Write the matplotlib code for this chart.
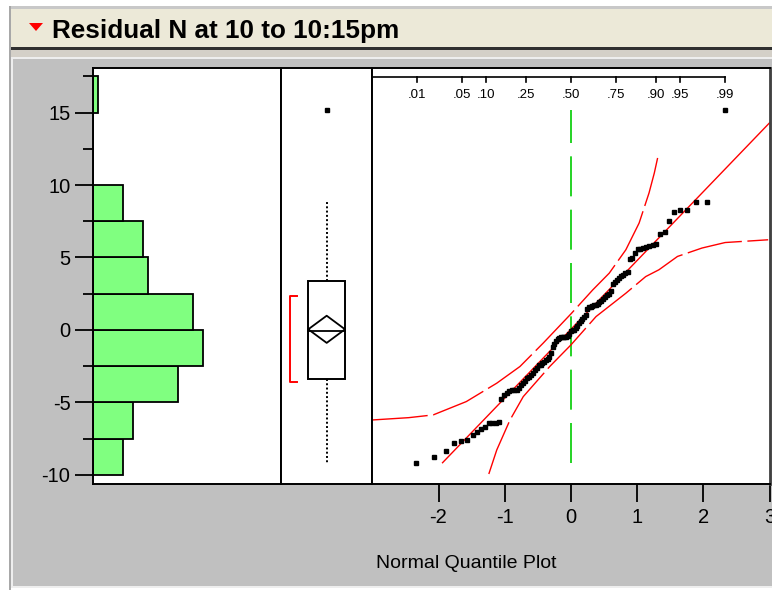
import numpy as np
import matplotlib
matplotlib.use('Agg')
import matplotlib.pyplot as plt
import matplotlib.transforms as mtransforms
from matplotlib.patches import Rectangle, Polygon
from statistics import NormalDist

residuals = [
    -9.17, -8.80, -8.36, -7.81, -7.65, -7.58,
    -7.26, -7.03, -6.86, -6.72, -6.45, -6.42, -6.40, -6.36,
    -4.79, -4.49, -4.35, -4.22, -4.18, -4.16, -4.13, -4.00, -3.82, -3.65,
    -3.50, -3.35, -3.22, -3.10, -2.95, -2.80, -2.65,
    -2.45, -2.42, -2.30, -2.20, -2.10, -1.98, -1.86, -1.60, -1.20, -1.00,
    -0.80, -0.60, -0.55, -0.52, -0.50, -0.48, -0.46, -0.44, -0.25, -0.06,
    -0.04, -0.02,
    0.15, 0.30, 0.45, 0.60, 0.75, 0.88, 1.05, 1.45, 1.55, 1.60,
    1.65, 1.70, 1.73, 1.80, 1.90, 1.98, 2.10, 2.25, 2.38, 2.45,
    2.70, 3.20, 3.30, 3.45, 3.55, 3.70, 3.80, 3.90, 4.00, 4.90, 4.97,
    5.30, 5.55, 5.60, 5.65, 5.75, 5.80, 5.85, 5.95, 6.65, 6.75,
    7.55, 8.11, 8.25, 8.28, 8.80, 8.82,
    15.2,
]

hist_ticks = [-10, -5, 0, 5, 10, 15]
quantile_ticks = [-2, -1, 0, 1, 2, 3]
prob_ticks = [0.01, 0.05, 0.10, 0.25, 0.50, 0.75, 0.90, 0.95, 0.99]
prob_labels = ['.01', '.05', '.10', '.25', '.50', '.75', '.90', '.95', '.99']
shortest_half = [-3.57, 2.35]

# Lilliefors confidence bands
upper_band_x = [-3.0, -2.45, -2.08, -1.58, -1.12, -0.77, -0.42, 0.0, 0.33, 0.58, 0.83, 1.03, 1.18, 1.26, 1.31]
upper_band_y = [-6.22, -6.06, -5.87, -4.95, -3.68, -2.53, -0.92, 1.1, 2.76, 3.92, 5.53, 7.37, 9.45, 10.83, 11.87]
lower_band_x = [-1.24, -1.12, -0.92, -0.72, -0.32, 0.0, 0.38, 0.83, 1.13, 1.33, 1.61, 1.98, 2.33, 2.98]
lower_band_y = [-9.95, -8.29, -6.22, -4.61, -2.53, -1.04, 0.92, 2.53, 3.68, 4.15, 5.07, 5.65, 6.03, 6.22]

W, H = 772, 594
plt.rcParams['font.family'] = ['Liberation Sans', 'DejaVu Sans']
plt.rcParams['axes.unicode_minus'] = False
fig = plt.figure(figsize=(W / 100, H / 100), dpi=100)


def px_axes(left, top, right, bottom):
    return fig.add_axes([left / W, 1 - bottom / H, (right - left) / W, (bottom - top) / H])


# window decoration
bg = fig.add_axes([0, 0, 1, 1])
bg.set_xlim(0, W)
bg.set_ylim(H, 0)
bg.axis('off')
bg.add_patch(Rectangle((10, 6), W - 10, 3, fc='#C8C8C8', ec='none'))
bg.add_patch(Rectangle((10, 9), W - 10, 38, fc='#ECE9D8', ec='none'))
bg.add_patch(Rectangle((10, 47), W - 10, 2.5, fc='#303030', ec='none'))
bg.add_patch(Rectangle((10, 49.5), W - 10, 8, fc='#D4D0C8', ec='none'))
bg.add_patch(Rectangle((10, 57), W - 10, 531, fc='#EEEEEE', ec='none'))
bg.add_patch(Rectangle((13, 59), W - 13, 527, fc='#C0C0C0', ec='none'))
bg.add_patch(Rectangle((9, 6), 1.5, 584, fc='#A8A8A8', ec='none'))
bg.add_patch(Polygon([(29, 23), (43, 23), (36, 31)], closed=True, fc='#FF0000', ec='none'))
bg.text(52, 31, 'Residual N at 10 to 10:15pm', fontsize=18.8, fontweight='bold',
        va='center', ha='left', color='black')
bg.text(466, 563, 'Normal Quantile Plot', fontsize=14, ha='center', va='center')

top, bottom = 67.7, 484
ylim = (-10.64, 18.1)
res = np.array(residuals)
n = len(res)

# histogram
ax_h = px_axes(92.7, top, 280.7, bottom)
ax_h.hist(res, bins=np.arange(-10, 17.6, 2.5), orientation='horizontal',
          color='#80FF80', edgecolor='black', linewidth=1.3)
ax_h.set_xlim(0, 37.6)
ax_h.set_ylim(*ylim)
ax_h.set_xticks([])
ax_h.set_yticks(hist_ticks)
ax_h.set_yticks(np.arange(-7.5, 18, 5), minor=True)
ax_h.tick_params(axis='y', which='major', length=13, width=1.3, labelsize=14.5, pad=3)
ax_h.tick_params(axis='y', which='minor', length=7, width=1.3)

# outlier box plot
ax_b = px_axes(280.7, top, 372.3, bottom)
ax_b.set_xlim(0, 1)
ax_b.set_ylim(*ylim)
ax_b.set_xticks([])
ax_b.set_yticks([])
q1, med, q3 = np.percentile(res, [25, 50, 75], method='weibull')
iqr = q3 - q1
hi = res[res <= q3 + 1.5 * iqr].max()
lo = res[res >= q1 - 1.5 * iqr].min()
outliers = res[(res > hi) | (res < lo)]
mean = res.mean()
sd = res.std(ddof=1)
ci = 1.984 * sd / np.sqrt(n)
bl, br, bc = 0.301, 0.702, 0.502
ax_b.add_patch(Rectangle((bl, q1), br - bl, q3 - q1, fc='white', ec='black', lw=1.4))
ax_b.plot([bl, br], [med, med], color='black', lw=1.3)
ax_b.plot([bl, bc, br, bc, bl], [mean, mean + ci, mean, mean - ci, mean], color='black', lw=1.3)
ax_b.plot([bc, bc], [q3, hi], color='black', lw=1.4, dashes=(1, 1.2))
ax_b.plot([bc, bc], [q1, lo], color='black', lw=1.4, dashes=(1, 1.2))
ax_b.plot([0.51] * len(outliers), outliers, 's', color='black', ms=2.4)
ax_b.plot([0.175, 0.10, 0.10, 0.175],
          [shortest_half[1], shortest_half[1], shortest_half[0], shortest_half[0]],
          color='#FF0000', lw=1.4)

# normal quantile plot
ax_q = px_axes(372.3, top, 769.5, bottom)
ax_q.set_xlim(-3, 3)
ax_q.set_ylim(*ylim)
nd = NormalDist()
scores = [nd.inv_cdf(i / (n + 1)) for i in range(1, n + 1)]
ax_q.plot([0, 0], [res.min(), res.max()], color='#00CC00', lw=1.2, dashes=(24, 8))
ax_q.plot(upper_band_x, upper_band_y, color='#FF0000', lw=1, dashes=(40, 4))
ax_q.plot(lower_band_x, lower_band_y, color='#FF0000', lw=1, dashes=(40, 4))
x0 = (res.min() - mean) / sd
ax_q.plot([x0, 3], [mean + sd * x0, mean + sd * 3], color='#FF0000', lw=1)
ax_q.plot(scores, np.sort(res), 's', color='black', ms=2.4, ls='none')

ax_q.set_xticks(quantile_ticks)
ax_q.set_yticks([])
ax_q.tick_params(axis='x', length=13, width=1.3, labelsize=14.5, pad=4)

# probability scale along the top
trans = mtransforms.blended_transform_factory(ax_q.transData, ax_q.transAxes)
p_x = [nd.inv_cdf(p) for p in prob_ticks]
ax_q.plot([-3, p_x[-1]], [0.977, 0.977], color='black', lw=1.2, transform=trans)
for xv, lab in zip(p_x, prob_labels):
    ax_q.plot([xv, xv], [0.977, 0.965], color='black', lw=1.2, transform=trans)
    ax_q.text(xv, 0.934, lab, fontsize=9.5, ha='center', va='center', transform=trans)

for ax in (ax_h, ax_b, ax_q):
    for sp in ax.spines.values():
        sp.set_linewidth(1.4)
ax_q.spines['right'].set_linewidth(2)
ax_q.spines['right'].set_color('#404040')

fig.savefig('out.png', dpi=100)
